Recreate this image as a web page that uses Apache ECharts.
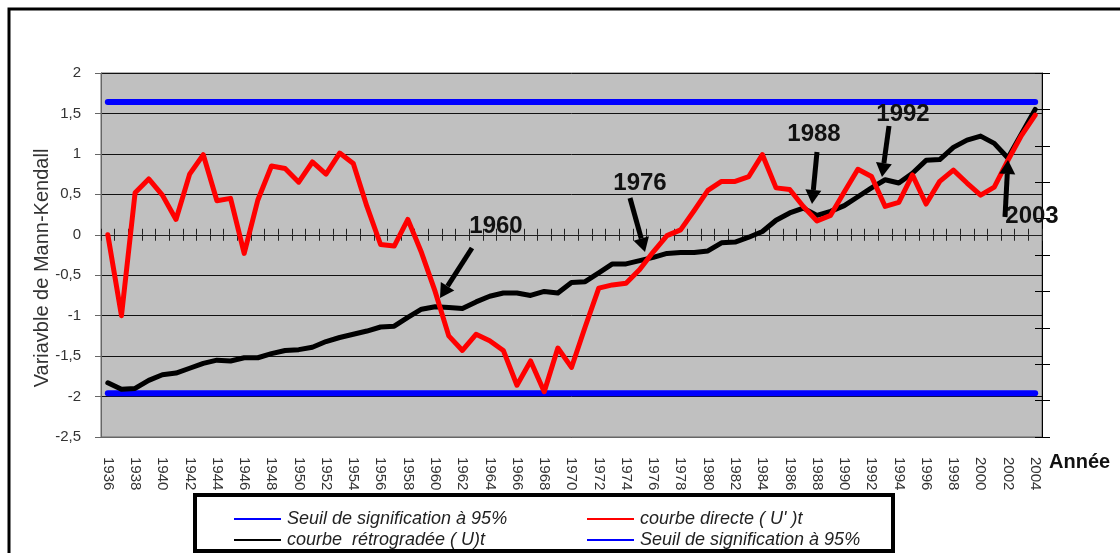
<!DOCTYPE html>
<html>
<head>
<meta charset="utf-8">
<script src="https://cdn.jsdelivr.net/npm/echarts@6/dist/echarts.min.js"></script>
<style>
  html, body { margin: 0; padding: 0; background: #fff; }
  #chart { width: 1120px; height: 553px; }
</style>
</head>
<body>
<div id="chart"></div>
<script>
// ---------- DATA ----------
const years = ['1936','1937','1938','1939','1940','1941','1942','1943','1944','1945',
  '1946','1947','1948','1949','1950','1951','1952','1953','1954','1955',
  '1956','1957','1958','1959','1960','1961','1962','1963','1964','1965',
  '1966','1967','1968','1969','1970','1971','1972','1973','1974','1975',
  '1976','1977','1978','1979','1980','1981','1982','1983','1984','1985',
  '1986','1987','1988','1989','1990','1991','1992','1993','1994','1995',
  '1996','1997','1998','1999','2000','2001','2002','2003','2004'];

// courbe directe ( U' )t
const courbeDirecte = [0.00,-1.00,0.52,0.69,0.49,0.19,0.75,0.99,0.42,0.45,
  -0.23,0.43,0.85,0.82,0.65,0.90,0.75,1.01,0.88,0.35,
  -0.12,-0.14,0.19,-0.22,-0.70,-1.25,-1.43,-1.23,-1.31,-1.43,
  -1.86,-1.56,-1.94,-1.40,-1.64,-1.14,-0.66,-0.62,-0.60,-0.43,
  -0.21,-0.01,0.06,0.30,0.55,0.66,0.66,0.72,0.99,0.58,
  0.56,0.35,0.17,0.24,0.53,0.81,0.72,0.35,0.40,0.74,
  0.38,0.66,0.80,0.64,0.49,0.59,0.92,1.23,1.48];

// courbe rétrogradée ( U)t
const courbeRetrograde = [-1.83,-1.91,-1.90,-1.80,-1.73,-1.71,-1.65,-1.59,-1.55,-1.56,
  -1.52,-1.52,-1.47,-1.43,-1.42,-1.39,-1.32,-1.27,-1.23,-1.19,
  -1.14,-1.13,-1.02,-0.92,-0.89,-0.90,-0.91,-0.83,-0.76,-0.72,
  -0.72,-0.75,-0.70,-0.72,-0.59,-0.58,-0.47,-0.36,-0.36,-0.32,
  -0.28,-0.23,-0.22,-0.22,-0.20,-0.10,-0.09,-0.03,0.04,0.18,
  0.27,0.33,0.24,0.29,0.36,0.47,0.58,0.68,0.64,0.76,
  0.92,0.93,1.08,1.17,1.22,1.13,0.95,1.25,1.55];

// Seuils de signification à 95%
const seuilHaut = [['1936', 1.64], ['2004', 1.64]];
const seuilBas  = [['1936', -1.96], ['2004', -1.96]];

// Tick settings
const yMin = -2.5, yMax = 2, yStep = 0.5;

// Annotations (year labels pointing at change points)
const annotLabels = ['1960', '1976', '1988', '1992', '2003'];

// ---------- LAYOUT / STYLE ----------
const annotText = [[496,226],[640,183],[814,134],[903,114],[1032,216]];
const annotArrows = [[472,248,440,298],[630,198,645,252],[817,152,812,204],[889,126,882,177],[1005,217,1008,160]];

function arrow(x1, y1, x2, y2) {
  const dx = x2 - x1, dy = y2 - y1, L = Math.hypot(dx, dy);
  const ux = dx / L, uy = dy / L, hl = 14, hw = 8;
  const bx = x2 - ux * hl, by = y2 - uy * hl, px = -uy, py = ux;
  return [
    { type: 'line', z: 100, shape: { x1: x1, y1: y1, x2: bx, y2: by }, style: { stroke: '#000', lineWidth: 5 } },
    { type: 'polygon', z: 100, shape: { points: [[x2, y2], [bx + px * hw, by + py * hw], [bx - px * hw, by - py * hw]] }, style: { fill: '#000' } }
  ];
}

const graphics = [];
// outer frame
graphics.push({ type: 'rect', z: 0, shape: { x: 9, y: 9, width: 1300, height: 700 }, style: { fill: 'none', stroke: '#000', lineWidth: 3 } });
// y axis title
graphics.push({ type: 'text', z: 100, x: 42, y: 268, rotation: Math.PI / 2,
  style: { text: 'Variavble de Mann-Kendall', font: '20px "Liberation Sans", Arial, sans-serif', fill: '#333', align: 'center', verticalAlign: 'middle' } });
// x axis title
graphics.push({ type: 'text', z: 100, x: 1049, y: 462,
  style: { text: 'Année', font: 'bold 20px "Liberation Sans", Arial, sans-serif', fill: '#111', align: 'left', verticalAlign: 'middle' } });
// annotations
annotLabels.forEach((t, i) => {
  graphics.push({ type: 'text', z: 100, x: annotText[i][0], y: annotText[i][1],
    style: { text: t, font: 'bold 24px "Liberation Sans", Arial, sans-serif', fill: '#111', align: 'center', verticalAlign: 'middle' } });
  graphics.push(...arrow(...annotArrows[i]));
});
// legend box
graphics.push({ type: 'rect', z: 100, shape: { x: 195, y: 495, width: 698, height: 56 }, style: { fill: '#fff', stroke: '#000', lineWidth: 4 } });
const legendItems = [
  { name: 'Seuil de signification à 95%', color: '#0000ff', x: 234, y: 519 },
  { name: "courbe directe ( U' )t", color: '#ff0000', x: 587, y: 519 },
  { name: 'courbe  rétrogradée ( U)t', color: '#000000', x: 234, y: 540 },
  { name: 'Seuil de signification à 95%', color: '#0000ff', x: 587, y: 540 }
];
legendItems.forEach(it => {
  graphics.push({ type: 'line', z: 101, shape: { x1: it.x, y1: it.y, x2: it.x + 47, y2: it.y }, style: { stroke: it.color, lineWidth: 2 } });
  graphics.push({ type: 'text', z: 101, x: it.x + 53, y: it.y,
    style: { text: it.name, font: 'italic 18px "Liberation Sans", Arial, sans-serif', fill: '#222', align: 'left', verticalAlign: 'middle' } });
});

const chart = echarts.init(document.getElementById('chart'), null, { renderer: 'canvas' });
const lineBase = { type: 'line', symbol: 'none', animation: false, silent: true };

chart.setOption({
  animation: false,
  backgroundColor: '#fff',
  grid: { left: 101, top: 73, width: 941, height: 364, show: true, backgroundColor: '#c0c0c0', borderColor: '#666', borderWidth: 1 },
  xAxis: [
    { type: 'category', data: years, boundaryGap: true, position: 'bottom',
      axisLine: { onZero: false, show: true, lineStyle: { color: '#666', width: 1 } },
      axisTick: { show: false },
      axisLabel: { interval: 1, rotate: -90, margin: 20, fontSize: 15, color: '#333', fontFamily: '"Liberation Sans", Arial, sans-serif' },
      splitLine: { show: false } },
    { type: 'category', data: years, boundaryGap: true, position: 'bottom',
      axisLine: { onZero: true, onZeroAxisIndex: 0, show: true, lineStyle: { color: '#222', width: 1 } },
      axisTick: { show: true, interval: 0, length: 6, lineStyle: { color: '#222' } },
      axisLabel: { show: false }, splitLine: { show: false } },
    { type: 'category', data: years, boundaryGap: true, position: 'top',
      axisLine: { onZero: true, onZeroAxisIndex: 0, show: true, lineStyle: { color: '#222', width: 1 } },
      axisTick: { show: true, interval: 0, length: 6, lineStyle: { color: '#222' } },
      axisLabel: { show: false }, splitLine: { show: false } }
  ],
  yAxis: [
    { type: 'value', min: yMin, max: yMax, interval: yStep, position: 'left',
      axisLine: { show: true, lineStyle: { color: '#666', width: 1 } },
      axisTick: { show: true, length: 6, lineStyle: { color: '#666' } },
      axisLabel: { margin: 20, fontSize: 15, color: '#333', fontFamily: '"Liberation Sans", Arial, sans-serif',
        formatter: v => String(v).replace('.', ',') },
      splitLine: { show: true, lineStyle: { color: '#111', width: 1 } } },
    { type: 'value', min: 0, max: 10, interval: 1, position: 'right',
      axisLine: { show: true, lineStyle: { color: '#000', width: 1 } },
      axisTick: { show: true, length: 8, lineStyle: { color: '#000' } },
      axisLabel: { show: false }, splitLine: { show: false } },
    { type: 'value', min: 0, max: 10, interval: 1, position: 'right',
      axisLine: { show: false },
      axisTick: { show: true, inside: true, length: 7, lineStyle: { color: '#000' } },
      axisLabel: { show: false }, splitLine: { show: false } }
  ],
  series: [
    Object.assign({}, lineBase, { name: 'Seuil de signification à 95%', data: seuilHaut, z: 3,
      lineStyle: { color: '#0000ff', width: 6, cap: 'round' } }),
    Object.assign({}, lineBase, { name: 'Seuil de signification à 95% (bas)', data: seuilBas, z: 3,
      lineStyle: { color: '#0000ff', width: 6, cap: 'round' } }),
    Object.assign({}, lineBase, { name: 'courbe  rétrogradée ( U)t', data: courbeRetrograde, z: 4,
      lineStyle: { color: '#000000', width: 5, cap: 'round', join: 'round' } }),
    Object.assign({}, lineBase, { name: "courbe directe ( U' )t", data: courbeDirecte, z: 5,
      lineStyle: { color: '#ff0000', width: 5, cap: 'round', join: 'round' } })
  ],
  graphic: graphics
});
</script>
</body>
</html>
